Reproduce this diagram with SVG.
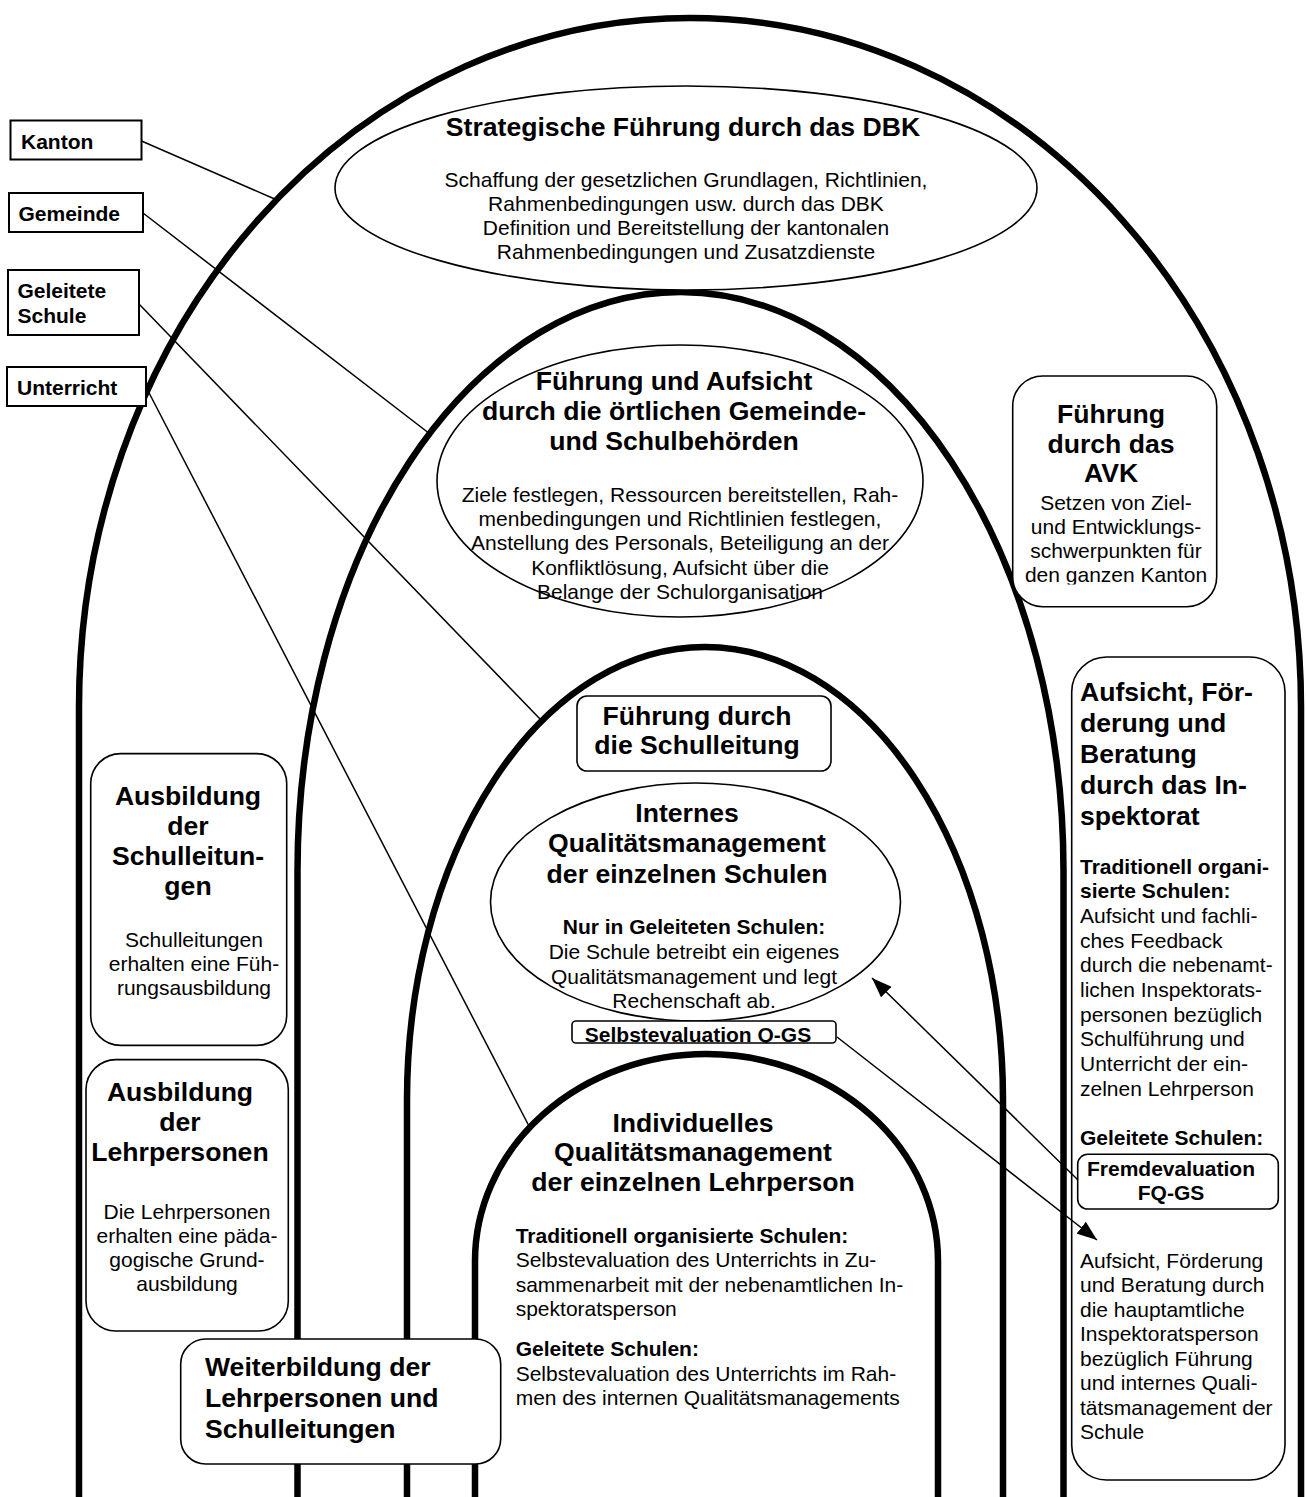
<svg xmlns="http://www.w3.org/2000/svg" width="1307" height="1497" viewBox="0 0 1307 1497">
<style>
.arch{fill:none;stroke:#000;stroke-width:6.5}
.shp{fill:#fff;stroke:#000;stroke-width:1.6}
.lbl{fill:#fff;stroke:#000;stroke-width:2}
.conn{fill:none;stroke:#000;stroke-width:1.5}
text{font-family:"Liberation Sans",Arial,Helvetica,sans-serif;font-size:21px;fill:#000}
.b{font-weight:bold}
.h{font-weight:bold;font-size:26.6px}
.c{text-anchor:middle}
</style>
<defs>
<marker id="arr" markerUnits="userSpaceOnUse" viewBox="0 0 20 15" refX="20" refY="7.5" markerWidth="20" markerHeight="15" orient="auto">
<path d="M0,0 L20,7.5 L0,15 z" fill="#000"/>
</marker>
<clipPath id="clipAVK"><rect x="1000" y="370" width="230" height="214.5"/></clipPath>
<clipPath id="clipSE"><rect x="560" y="1015" width="290" height="28"/></clipPath>
</defs>
<rect x="0" y="0" width="1307" height="1497" fill="#fff"/>

<g id="kanton-arch">
<path class="arch" d="M79,1497 L79,707 A611,689 0 0 1 1301,707 L1301,1497"/>
</g>
<g id="gemeinde-arch">
<path class="arch" d="M297.5,1497 L297.5,871 A383,579 0 0 1 1063.5,871 L1063.5,1497"/>
</g>
<g id="schule-arch">
<path class="arch" d="M407,1497 L407,1100 A298,453 0 0 1 1003,1100 L1003,1497"/>
</g>
<g id="unterricht-arch">
<path class="arch" d="M475,1497 L475,1261 A231.5,207 0 0 1 938,1261 L938,1497"/>
</g>

<g id="label-kanton">
<rect class="lbl" x="10.5" y="120.5" width="131" height="39"/>
<text class="b" x="21" y="149">Kanton</text>
</g>
<g id="label-gemeinde">
<rect class="lbl" x="9" y="193" width="134" height="39"/>
<text class="b" x="18.5" y="221">Gemeinde</text>
</g>
<g id="label-schule">
<rect class="lbl" x="8" y="270" width="131" height="65"/>
<text class="b" x="17.5" y="298">Geleitete</text>
<text class="b" x="17.5" y="323">Schule</text>
</g>
<g id="label-unterricht">
<rect class="lbl" x="7" y="367" width="139" height="39"/>
<text class="b" x="17" y="395">Unterricht</text>
</g>

<g id="dbk">
<ellipse class="shp" cx="686" cy="188" rx="351" ry="102"/>
<text class="h c" x="683" y="136">Strategische Führung durch das DBK</text>
<text class="c" x="686" y="186.5">Schaffung der gesetzlichen Grundlagen, Richtlinien,</text>
<text class="c" x="686" y="210.5">Rahmenbedingungen usw. durch das DBK</text>
<text class="c" x="686" y="234.5">Definition und Bereitstellung der kantonalen</text>
<text class="c" x="686" y="258.5">Rahmenbedingungen und Zusatzdienste</text>
</g>

<g id="gemeinde">
<ellipse class="shp" cx="680" cy="481" rx="243" ry="136"/>
<text class="h c" x="674" y="390">Führung und Aufsicht</text>
<text class="h c" x="674" y="420">durch die örtlichen Gemeinde-</text>
<text class="h c" x="674" y="450">und Schulbehörden</text>
<text class="c" x="680" y="502">Ziele festlegen, Ressourcen bereitstellen, Rah-</text>
<text class="c" x="680" y="526">menbedingungen und Richtlinien festlegen,</text>
<text class="c" x="680" y="550">Anstellung des Personals, Beteiligung an der</text>
<text class="c" x="680" y="575">Konfliktlösung, Aufsicht über die</text>
<text class="c" x="680" y="599">Belange der Schulorganisation</text>
</g>

<g id="avk">
<rect class="shp" x="1012.7" y="376" width="204" height="230.7" rx="30"/>
<text class="h c" x="1111" y="423">Führung</text>
<text class="h c" x="1111" y="453">durch das</text>
<text class="h c" x="1111" y="482">AVK</text>
<g clip-path="url(#clipAVK)">
<text class="c" x="1116" y="510">Setzen von Ziel-</text>
<text class="c" x="1116" y="534">und Entwicklungs-</text>
<text class="c" x="1116" y="558">schwerpunkten für</text>
<text class="c" x="1116" y="582">den ganzen Kanton</text>
</g>
</g>

<g id="inspektorat">
<rect class="shp" x="1071.7" y="657" width="213.3" height="823" rx="35"/>
<text class="h" x="1080" y="701">Aufsicht, För-</text>
<text class="h" x="1080" y="732">derung und</text>
<text class="h" x="1080" y="763">Beratung</text>
<text class="h" x="1080" y="794">durch das In-</text>
<text class="h" x="1080" y="825">spektorat</text>
<text class="b" x="1080" y="874">Traditionell organi-</text>
<text class="b" x="1080" y="898">sierte Schulen:</text>
<text x="1080" y="923">Aufsicht und fachli-</text>
<text x="1080" y="948">ches Feedback</text>
<text x="1080" y="972">durch die nebenamt-</text>
<text x="1080" y="997">lichen Inspektorats-</text>
<text x="1080" y="1022">personen bezüglich</text>
<text x="1080" y="1046">Schulführung und</text>
<text x="1080" y="1071">Unterricht der ein-</text>
<text x="1080" y="1096">zelnen Lehrperson</text>
<text class="b" x="1080" y="1145">Geleitete Schulen:</text>
<text x="1080" y="1268">Aufsicht, Förderung</text>
<text x="1080" y="1292">und Beratung durch</text>
<text x="1080" y="1317">die hauptamtliche</text>
<text x="1080" y="1341">Inspektoratsperson</text>
<text x="1080" y="1366">bezüglich Führung</text>
<text x="1080" y="1390">und internes Quali-</text>
<text x="1080" y="1415">tätsmanagement der</text>
<text x="1080" y="1439">Schule</text>
</g>

<g id="fremdevaluation">
<rect class="shp" x="1077.7" y="1154.3" width="200.6" height="54.7" rx="10"/>
<text class="b c" x="1171" y="1175.5">Fremdevaluation</text>
<text class="b c" x="1171" y="1199.5">FQ-GS</text>
</g>

<g id="schulleitung">
<rect class="shp" x="577" y="696" width="254" height="75" rx="10"/>
<text class="h c" x="697" y="725">Führung durch</text>
<text class="h c" x="697" y="754">die Schulleitung</text>
</g>

<g id="internes-qm">
<ellipse class="shp" cx="695.5" cy="902" rx="205" ry="119"/>
<text class="h c" x="687" y="822">Internes</text>
<text class="h c" x="687" y="852">Qualitätsmanagement</text>
<text class="h c" x="687" y="883">der einzelnen Schulen</text>
<text class="b c" x="694" y="934">Nur in Geleiteten Schulen:</text>
<text class="c" x="694" y="959">Die Schule betreibt ein eigenes</text>
<text class="c" x="694" y="984">Qualitätsmanagement und legt</text>
<text class="c" x="694" y="1008">Rechenschaft ab.</text>
</g>

<g id="selbstevaluation">
<rect class="shp" x="572" y="1021" width="264" height="22" rx="4"/>
<g clip-path="url(#clipSE)"><text class="b c" x="698" y="1042">Selbstevaluation Q-GS</text></g>
</g>

<g id="individuelles-qm">
<text class="h c" x="693" y="1132">Individuelles</text>
<text class="h c" x="693" y="1161">Qualitätsmanagement</text>
<text class="h c" x="693" y="1191">der einzelnen Lehrperson</text>
<text class="b" x="515.7" y="1243">Traditionell organisierte Schulen:</text>
<text x="515.7" y="1267">Selbstevaluation des Unterrichts in Zu-</text>
<text x="515.7" y="1292">sammenarbeit mit der nebenamtlichen In-</text>
<text x="515.7" y="1316">spektoratsperson</text>
<text class="b" x="515.7" y="1356">Geleitete Schulen:</text>
<text x="515.7" y="1381">Selbstevaluation des Unterrichts im Rah-</text>
<text x="515.7" y="1405">men des internen Qualitätsmanagements</text>
</g>

<g id="ausbildung-sl">
<rect class="shp" x="90.7" y="753.6" width="196" height="291.8" rx="30"/>
<text class="h c" x="188" y="805">Ausbildung</text>
<text class="h c" x="188" y="835">der</text>
<text class="h c" x="188" y="865">Schulleitun-</text>
<text class="h c" x="188" y="895">gen</text>
<text class="c" x="194" y="947">Schulleitungen</text>
<text class="c" x="194" y="971">erhalten eine Füh-</text>
<text class="c" x="194" y="995">rungsausbildung</text>
</g>

<g id="ausbildung-lp">
<rect class="shp" x="86" y="1059.6" width="202.3" height="271.4" rx="30"/>
<text class="h c" x="180" y="1101">Ausbildung</text>
<text class="h c" x="180" y="1131">der</text>
<text class="h c" x="180" y="1161">Lehrpersonen</text>
<text class="c" x="187" y="1219">Die Lehrpersonen</text>
<text class="c" x="187" y="1243">erhalten eine päda-</text>
<text class="c" x="187" y="1267">gogische Grund-</text>
<text class="c" x="187" y="1291">ausbildung</text>
</g>

<g id="weiterbildung">
<rect class="shp" x="180.7" y="1339" width="320" height="125" rx="25"/>
<text class="h" x="205" y="1376">Weiterbildung der</text>
<text class="h" x="205" y="1407">Lehrpersonen und</text>
<text class="h" x="205" y="1438">Schulleitungen</text>
</g>

<g id="connectors">
<line class="conn" x1="141.5" y1="141" x2="277" y2="200"/>
<line class="conn" x1="143" y1="213" x2="430" y2="434"/>
<line class="conn" x1="139" y1="304" x2="541" y2="720"/>
<line class="conn" x1="146" y1="387" x2="530" y2="1128"/>
<line class="conn" x1="1078" y1="1180" x2="872" y2="978" marker-end="url(#arr)"/>
<line class="conn" x1="837" y1="1037" x2="1097" y2="1240" marker-end="url(#arr)"/>
</g>
</svg>
